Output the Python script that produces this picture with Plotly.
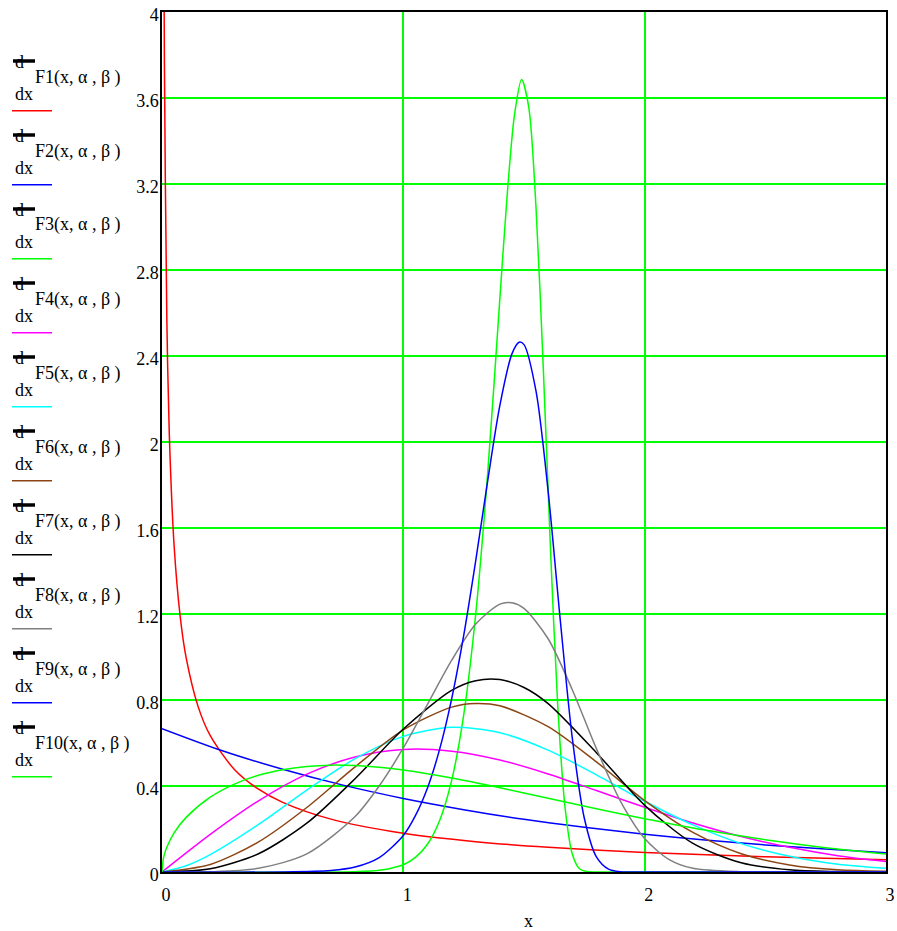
import plotly.graph_objects as go

# ---------------- data ----------------
x_f1 = [0.003, 0.006, 0.01, 0.02, 0.03, 0.05, 0.075, 0.1, 0.15, 0.2, 0.3, 0.4, 0.5, 0.7, 1.0, 1.3, 1.6, 2.0, 2.5, 3.0]
y_f1 = [7.128, 4.947, 3.762, 2.572, 2.046, 1.521, 1.192, 0.997, 0.768, 0.634, 0.477, 0.385, 0.324, 0.246, 0.180, 0.141, 0.115, 0.091, 0.071, 0.057]

x_f2 = [0, 0.25, 0.5, 0.75, 1.0, 1.25, 1.5, 1.75, 2.0, 2.25, 2.5, 2.75, 3.0]
y_f2 = [0.667, 0.564, 0.478, 0.404, 0.342, 0.290, 0.245, 0.208, 0.176, 0.149, 0.126, 0.107, 0.090]

x_f3 = [0, 0.8, 0.9, 1.0, 1.05, 1.1, 1.15, 1.2, 1.25, 1.3, 1.35, 1.4, 1.43, 1.46, 1.49, 1.52, 1.55, 1.58, 1.61, 1.64, 1.67, 1.7, 1.73, 1.76, 1.8, 2.0, 3.0]
y_f3 = [0, 0.0015, 0.0078, 0.034, 0.068, 0.129, 0.238, 0.425, 0.730, 1.200, 1.862, 2.668, 3.144, 3.517, 3.686, 3.555, 3.085, 2.340, 1.496, 0.770, 0.301, 0.084, 0.015, 0.002, 0, 0, 0]

x_f4 = [0, 0.2, 0.4, 0.6, 0.8, 1.0, 1.2, 1.4, 1.6, 1.8, 2.0, 2.2, 2.4, 2.6, 2.8, 3.0]
y_f4 = [0, 0.175, 0.331, 0.455, 0.535, 0.570, 0.562, 0.521, 0.456, 0.379, 0.301, 0.228, 0.165, 0.115, 0.076, 0.049]

x_f5 = [0, 0.1, 0.2, 0.4, 0.6, 0.8, 1.0, 1.2, 1.4, 1.6, 1.8, 2.0, 2.2, 2.4, 2.6, 2.8, 3.0]
y_f5 = [0, 0.029, 0.081, 0.221, 0.381, 0.527, 0.631, 0.673, 0.648, 0.567, 0.452, 0.329, 0.219, 0.132, 0.073, 0.036, 0.017]

x_f6 = [0, 0.2, 0.4, 0.6, 0.8, 1.0, 1.2, 1.3, 1.4, 1.6, 1.8, 2.0, 2.2, 2.4, 2.6, 2.8, 3.0]
y_f6 = [0, 0.035, 0.140, 0.300, 0.489, 0.661, 0.767, 0.784, 0.773, 0.676, 0.512, 0.332, 0.184, 0.085, 0.033, 0.010, 0.003]

x_f7 = [0, 0.2, 0.4, 0.6, 0.8, 1.0, 1.2, 1.3, 1.4, 1.5, 1.6, 1.8, 2.0, 2.2, 2.4, 2.6, 2.8, 3.0]
y_f7 = [0, 0.015, 0.085, 0.227, 0.434, 0.665, 0.845, 0.890, 0.895, 0.858, 0.783, 0.555, 0.310, 0.133, 0.043, 0.010, 0.002, 0]

x_f8 = [0, 0.2, 0.4, 0.6, 0.8, 0.9, 1.0, 1.1, 1.2, 1.3, 1.4, 1.45, 1.5, 1.6, 1.7, 1.8, 1.9, 2.0, 2.1, 2.2, 2.4, 2.6, 3.0]
y_f8 = [0, 0.001, 0.017, 0.084, 0.258, 0.400, 0.577, 0.780, 0.984, 1.153, 1.246, 1.252, 1.226, 1.085, 0.848, 0.574, 0.329, 0.156, 0.059, 0.017, 0.001, 0, 0]

x_f9 = [0, 0.5, 0.7, 0.8, 0.9, 1.0, 1.05, 1.1, 1.15, 1.2, 1.25, 1.3, 1.35, 1.4, 1.45, 1.48, 1.5, 1.55, 1.6, 1.65, 1.7, 1.75, 1.8, 1.85, 1.9, 2.0, 3.0]
y_f9 = [0, 0.0003, 0.007, 0.023, 0.067, 0.170, 0.262, 0.391, 0.569, 0.804, 1.099, 1.448, 1.823, 2.170, 2.410, 2.464, 2.453, 2.235, 1.771, 1.175, 0.624, 0.250, 0.070, 0.013, 0.001, 0, 0]

x_f10 = [0, 0.005, 0.01, 0.02, 0.05, 0.1, 0.2, 0.3, 0.4, 0.5, 0.6, 0.7, 0.8, 0.9, 1.0, 1.2, 1.4, 1.6, 1.8, 2.0, 2.25, 2.5, 2.75, 3.0]
y_f10 = [0, 0.058, 0.082, 0.115, 0.182, 0.254, 0.348, 0.409, 0.450, 0.476, 0.491, 0.497, 0.495, 0.487, 0.474, 0.437, 0.392, 0.343, 0.294, 0.248, 0.195, 0.150, 0.113, 0.084]

series_names = ["F1(x, α , β )", "F2(x, α , β )", "F3(x, α , β )", "F4(x, α , β )", "F5(x, α , β )",
                "F6(x, α , β )", "F7(x, α , β )", "F8(x, α , β )", "F9(x, α , β )", "F10(x, α , β )"]
series_colors = ["#ff0000", "#0000ff", "#00ff00", "#ff00ff", "#00ffff",
                 "#8b4513", "#000000", "#808080", "#0000ff", "#00ff00"]

y_tickvals = [0, 0.4, 0.8, 1.2, 1.6, 2, 2.4, 2.8, 3.2, 3.6, 4]
y_ticktext = ["0", "0.4", "0.8", "1.2", "1.6", "2", "2.4", "2.8", "3.2", "3.6", "4"]
x_tickvals = [0, 1, 2, 3]
x_ticktext = ["0", "1", "2", "3"]
x_title = "x"

# ---------------- figure ----------------
W, H = 897, 931
ML, MR, MT, MB = 162, 11, 12, 59
PW = W - ML - MR
PH = H - MT - MB


def px_x(px):
    return (px - ML) / PW


def px_y(py):
    return (H - MB - py) / PH


FONT = "Liberation Serif"
FS = 18

fig = go.Figure()
xs = [x_f1, x_f2, x_f3, x_f4, x_f5, x_f6, x_f7, x_f8, x_f9, x_f10]
ys = [y_f1, y_f2, y_f3, y_f4, y_f5, y_f6, y_f7, y_f8, y_f9, y_f10]
for xv, yv, nm, col in zip(xs, ys, series_names, series_colors):
    fig.add_trace(go.Scatter(x=xv, y=yv, mode="lines", name=nm,
                             line=dict(color=col, width=1.5, shape="spline", smoothing=0.8),
                             showlegend=False, hoverinfo="skip"))

shapes = []
annotations = []
for i, (nm, col) in enumerate(zip(series_names, series_colors)):
    bar_y = 61 + 74 * i
    # the "d" numerator partly hidden by the thick fraction bar
    annotations.append(dict(xref="paper", yref="paper", x=px_x(13), y=px_y(bar_y + 1),
                            text="d", showarrow=False, xanchor="left", yanchor="middle",
                            font=dict(family=FONT, size=FS, color="black")))
    shapes.append(dict(type="line", xref="paper", yref="paper",
                       x0=px_x(13), x1=px_x(35), y0=px_y(bar_y), y1=px_y(bar_y),
                       line=dict(color="black", width=3.5)))
    annotations.append(dict(xref="paper", yref="paper", x=px_x(33), y=px_y(bar_y + 16),
                            text=nm, showarrow=False, xanchor="left", yanchor="middle",
                            font=dict(family=FONT, size=FS, color="black")))
    annotations.append(dict(xref="paper", yref="paper", x=px_x(13), y=px_y(bar_y + 33),
                            text="dx", showarrow=False, xanchor="left", yanchor="middle",
                            font=dict(family=FONT, size=FS, color="black")))
    shapes.append(dict(type="line", xref="paper", yref="paper",
                       x0=px_x(12), x1=px_x(52), y0=px_y(bar_y + 49.7), y1=px_y(bar_y + 49.7),
                       line=dict(color=col, width=1.5)))

# axis title placed as text under the x axis
annotations.append(dict(xref="paper", yref="paper", x=px_x(528), y=px_y(921),
                        text=x_title, showarrow=False, xanchor="center", yanchor="middle",
                        font=dict(family=FONT, size=FS, color="black")))

fig.update_layout(
    width=W, height=H,
    margin=dict(l=ML, r=MR, t=MT, b=MB, pad=0, autoexpand=False),
    paper_bgcolor="white", plot_bgcolor="white",
    font=dict(family=FONT, size=FS, color="black"),
    shapes=shapes, annotations=annotations,
    showlegend=False,
)
fig.update_xaxes(range=[0, 3], tickvals=x_tickvals, ticktext=x_ticktext,
                 showgrid=True, gridcolor="#00ff00", gridwidth=1.5,
                 showline=True, linecolor="black", linewidth=1.5, mirror=True,
                 zeroline=False, ticks="", ticklabelshift=4, ticklabelstandoff=6,
                 automargin=False, ticklabeloverflow="allow",
                 tickfont=dict(family=FONT, size=FS))
fig.update_yaxes(range=[0, 4], tickvals=y_tickvals, ticktext=y_ticktext,
                 showgrid=True, gridcolor="#00ff00", gridwidth=1.5,
                 showline=True, linecolor="black", linewidth=1.5, mirror=True,
                 zeroline=False, ticks="", ticklabelshift=3, ticklabelstandoff=-2,
                 automargin=False, ticklabeloverflow="allow",
                 tickfont=dict(family=FONT, size=FS))

fig.write_html("out.html")
